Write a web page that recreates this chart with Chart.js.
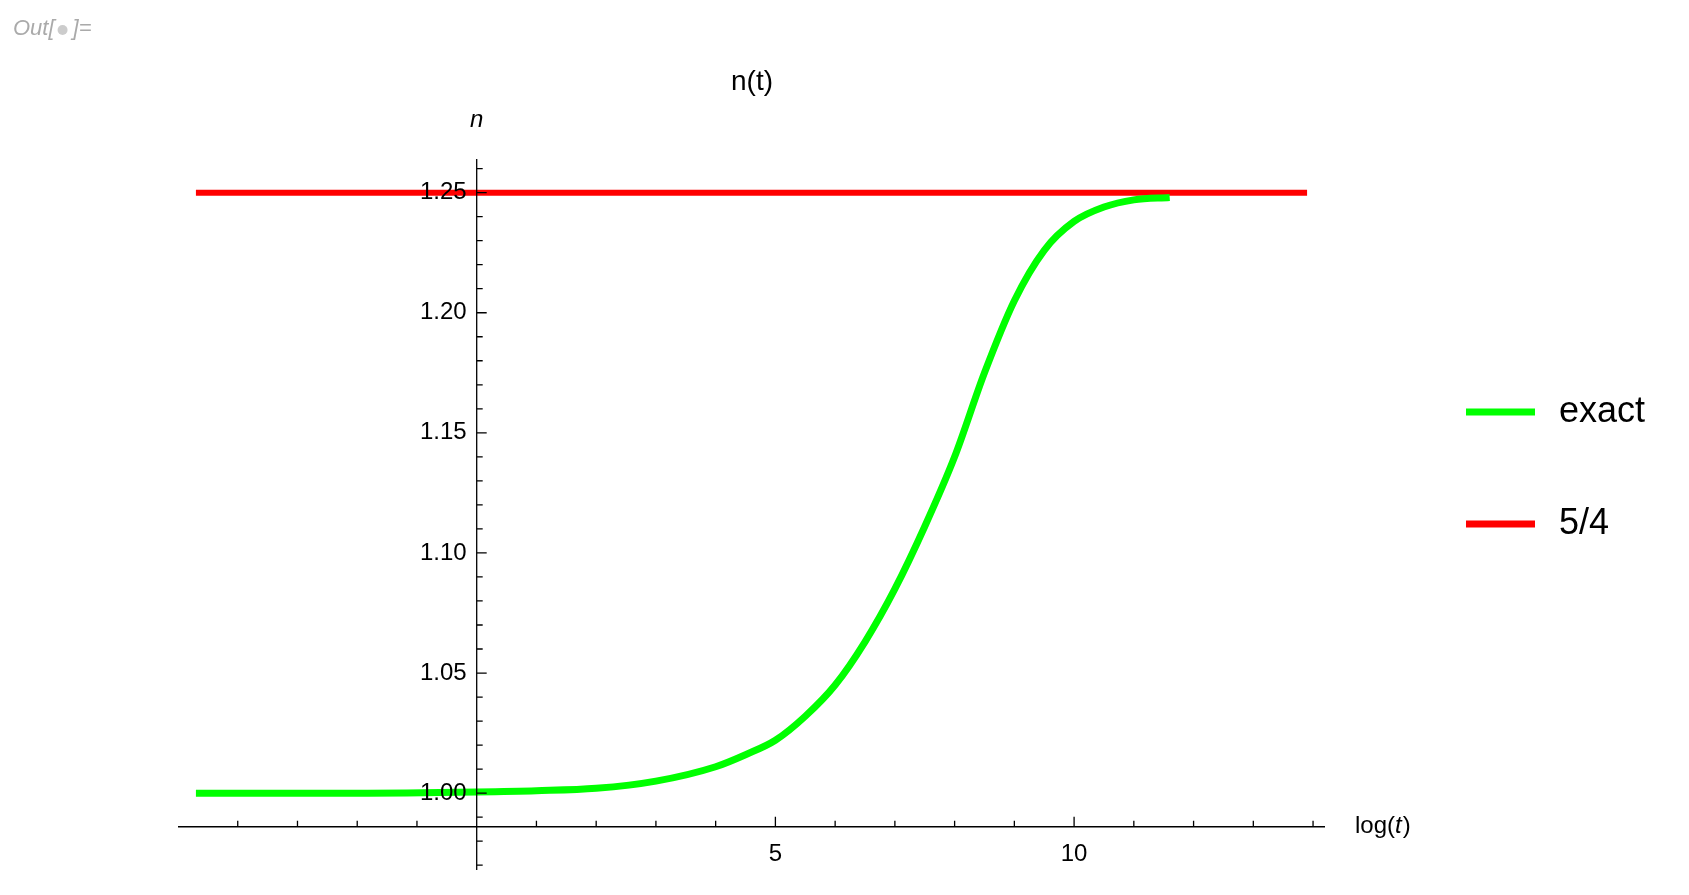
<!DOCTYPE html>
<html>
<head>
<meta charset="utf-8">
<script src="https://cdn.jsdelivr.net/npm/chart.js@4"></script>
<style>
  html, body { margin: 0; padding: 0; background: #fff; }
  #wrap { width: 1689px; height: 895px; }
</style>
</head>
<body>
<div id="wrap"><canvas id="myChart"></canvas></div>
<script>
// dados
const xExato = [-4.7, -2, 0, 1, 2, 3, 4, 4.5, 5, 5.5, 6, 6.5, 7, 7.5, 8, 8.5, 9, 9.5, 10, 10.5, 11, 11.6];
const nExato = [1.000, 1.000, 1.0005, 1.001, 1.002, 1.005, 1.011, 1.016, 1.022, 1.032, 1.045, 1.063, 1.085, 1.111, 1.140, 1.175, 1.205, 1.226, 1.238, 1.244, 1.247, 1.248];
const xLimite = [-4.7, 13.9];
const nLimite = [1.25, 1.25];
const yTicks = [1.00, 1.05, 1.10, 1.15, 1.20, 1.25];
const xTicks = [5, 10];

const pontos = (xs, ys) => xs.map((x, i) => ({ x: x, y: ys[i] }));

// desenha eixos estilo Mathematica
const eixos = {
    id: 'eixos',
    afterDraw(chart) {
        const c = chart.ctx, sx = chart.scales.x, sy = chart.scales.y;
        const x0 = sx.getPixelForValue(0), y0 = sy.getPixelForValue(0.986);
        c.save();
        c.strokeStyle = '#000'; c.fillStyle = '#000'; c.lineWidth = 1.3;
        c.beginPath();
        c.moveTo(sx.left, y0); c.lineTo(sx.right, y0);
        c.moveTo(x0, sy.top); c.lineTo(x0, sy.bottom);
        // ticks menores do y
        for (let i = 97; i <= 126; i++) {
            const v = i / 100, p = sy.getPixelForValue(v);
            const len = (i % 5 === 0) ? 10 : 6;
            c.moveTo(x0, p); c.lineTo(x0 + len, p);
        }
        // ticks do x
        for (let i = -4; i <= 14; i++) {
            if (i === 0) continue;
            const p = sx.getPixelForValue(i);
            const len = (i % 5 === 0) ? 10 : 6;
            c.moveTo(p, y0); c.lineTo(p, y0 - len);
        }
        c.stroke();
        c.font = '24px "Liberation Sans", Arial, sans-serif';
        c.textAlign = 'right'; c.textBaseline = 'middle';
        yTicks.forEach(v => c.fillText(v.toFixed(2), x0 - 10, sy.getPixelForValue(v)));
        c.textAlign = 'center'; c.textBaseline = 'top';
        xTicks.forEach(v => c.fillText(String(v), sx.getPixelForValue(v), y0 + 16));
        // rótulos dos eixos
        c.textAlign = 'left'; c.textBaseline = 'middle';
        c.fillText('log(', sx.right + 30, y0);
        const w = c.measureText('log(').width;
        c.font = 'italic 24px "Liberation Sans", Arial, sans-serif';
        c.fillText('t', sx.right + 30 + w, y0);
        const w2 = c.measureText('t').width;
        c.font = '24px "Liberation Sans", Arial, sans-serif';
        c.fillText(')', sx.right + 30 + w + w2 + 1, y0);
        c.font = 'italic 24px "Liberation Sans", Arial, sans-serif';
        c.textAlign = 'center';
        c.fillText('n', x0, 120);
        // título
        c.font = '28px "Liberation Sans", Arial, sans-serif';
        c.fillText('n(t)', 752, 82);
        // Out[●]=
        c.fillStyle = '#aaa'; c.textAlign = 'left';
        c.font = 'italic 22px "Liberation Sans", Arial, sans-serif';
        c.fillText('Out[', 13, 29);
        const wo = c.measureText('Out[').width;
        c.fillStyle = '#ccc';
        c.beginPath(); c.arc(13 + wo + 8, 30, 5, 0, 2 * Math.PI); c.fill();
        c.fillStyle = '#aaa';
        c.fillText(']=', 13 + wo + 18, 29);
        // legenda
        chart.data.datasets.forEach((ds, i) => {
            const ly = 412 + i * 112;
            c.strokeStyle = ds.borderColor; c.lineWidth = 7;
            c.beginPath(); c.moveTo(1466, ly); c.lineTo(1535, ly); c.stroke();
            c.fillStyle = '#000';
            c.font = '36px "Liberation Sans", Arial, sans-serif';
            c.fillText(ds.label, 1559, ly);
        });
        c.restore();
    }
};

new Chart(document.getElementById('myChart'), {
    type: 'line',
    data: {
        datasets: [
            { label: 'exact', data: pontos(xExato, nExato), borderColor: '#00ff00', borderWidth: 7, pointRadius: 0, cubicInterpolationMode: 'monotone' },
            { label: '5/4', data: pontos(xLimite, nLimite), borderColor: '#ff0000', borderWidth: 6, pointRadius: 0 }
        ]
    },
    options: {
        responsive: true,
        maintainAspectRatio: false,
        animation: false,
        layout: { padding: { top: 159, right: 364, bottom: 25, left: 178 } },
        plugins: { legend: { display: false }, tooltip: { enabled: false } },
        scales: {
            x: { type: 'linear', min: -5, max: 14.2, display: false },
            y: { type: 'linear', min: 0.968, max: 1.264, display: false }
        }
    },
    plugins: [eixos]
});
</script>
</body>
</html>
